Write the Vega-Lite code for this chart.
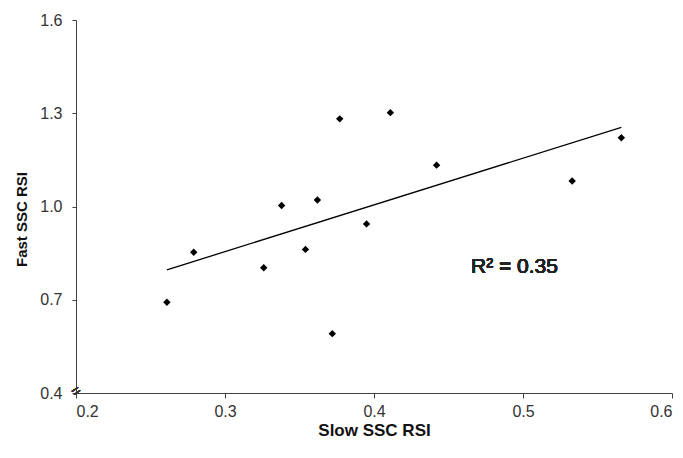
{
  "$schema": "https://vega.github.io/schema/vega-lite/v6.json",
  "width": 596,
  "height": 373,
  "autosize": "none",
  "padding": {"left": 76, "top": 20, "right": 11, "bottom": 65},
  "background": "white",
  "config": {
    "view": {"stroke": null},
    "font": "Arial",
    "axis": {
      "grid": false,
      "domainColor": "#404040",
      "tickColor": "#404040",
      "labelColor": "#333333",
      "titleColor": "#111111",
      "labelFont": "Arial",
      "titleFont": "Arial",
      "titleFontWeight": "bold",
      "tickSize": 5
    }
  },
  "data": {
    "values": [
      {"slow": 0.261, "fast": 0.692},
      {"slow": 0.279, "fast": 0.853},
      {"slow": 0.326, "fast": 0.803},
      {"slow": 0.338, "fast": 1.003},
      {"slow": 0.354, "fast": 0.862},
      {"slow": 0.362, "fast": 1.021},
      {"slow": 0.372, "fast": 0.591},
      {"slow": 0.377, "fast": 1.282},
      {"slow": 0.395, "fast": 0.944},
      {"slow": 0.411, "fast": 1.302},
      {"slow": 0.442, "fast": 1.133},
      {"slow": 0.533, "fast": 1.082},
      {"slow": 0.566, "fast": 1.221}
    ]
  },
  "layer": [
    {
      "transform": [{"regression": "fast", "on": "slow"}],
      "mark": {"type": "line", "color": "black", "strokeWidth": 1.3},
      "encoding": {
        "x": {"field": "slow", "type": "quantitative"},
        "y": {"field": "fast", "type": "quantitative"}
      }
    },
    {
      "mark": {"type": "point", "shape": "diamond", "filled": true, "color": "black", "size": 55, "opacity": 1},
      "encoding": {
        "x": {
          "field": "slow", "type": "quantitative",
          "scale": {"domain": [0.2, 0.6], "nice": false, "zero": false},
          "axis": {"title": "Slow SSC RSI", "values": [0.2, 0.3, 0.4, 0.5, 0.6], "format": ".1f", "labelFontSize": 16, "labelPadding": 5, "titleFontSize": 17, "titleY": 37, "titleBaseline": "middle"}
        },
        "y": {
          "field": "fast", "type": "quantitative",
          "scale": {"domain": [0.4, 1.6], "nice": false, "zero": false},
          "axis": {"title": "Fast SSC RSI", "values": [0.4, 0.7, 1.0, 1.3, 1.6], "format": ".1f", "labelFontSize": 16, "tickSize": 4, "labelPadding": 10, "titleFontSize": 15, "titleX": -55, "titleY": 199, "titleAlign": "center", "titleBaseline": "middle"}
        }
      }
    },
    {
      "mark": {"type": "text", "text": "R² = 0.35", "fontSize": 21, "fontWeight": "normal", "align": "left", "baseline": "alphabetic", "color": "#222222", "font": "Arial"},
      "encoding": {
        "x": {"datum": 0.4651},
        "y": {"datum": 0.786}
      }
    },
    {
      "mark": {"type": "text", "text": "=", "fontSize": 15, "angle": -35, "align": "center", "baseline": "middle", "color": "#333333"},
      "encoding": {
        "x": {"datum": 0.2},
        "y": {"datum": 0.407}
      }
    }
  ]
}
